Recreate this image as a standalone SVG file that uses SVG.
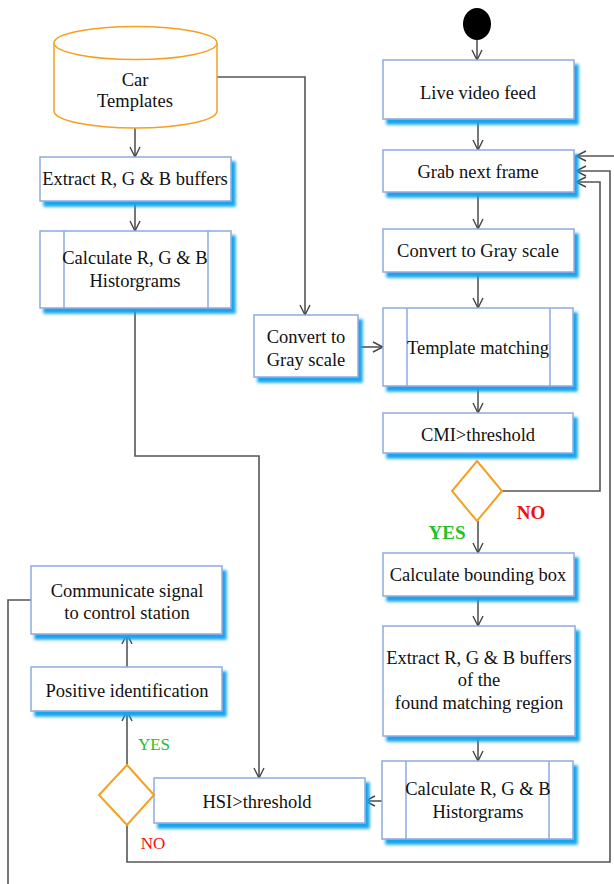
<svg xmlns="http://www.w3.org/2000/svg" width="614" height="884" viewBox="0 0 614 884">
<defs>
<filter id="sh" x="-10%" y="-10%" width="130%" height="140%">
<feDropShadow dx="4" dy="5" stdDeviation="1.8" flood-color="#12a4ee" flood-opacity="1"/>
</filter>
<marker id="ar" viewBox="0 0 12 12" refX="11" refY="6" markerWidth="12" markerHeight="12" markerUnits="userSpaceOnUse" orient="auto">
<polyline points="1,1 11,6 1,11" fill="none" stroke="#444" stroke-width="1.4"/>
</marker>
<style>
.box{fill:#fff;stroke:#8eaade;stroke-width:1.5;filter:url(#sh)}
.in{stroke:#8eaade;stroke-width:1.5}
.t{font-family:"Liberation Serif","Times New Roman",serif;font-size:18.5px;fill:#111;text-anchor:middle}
.c{fill:none;stroke:#555;stroke-width:1.6}
.dec{fill:#fff;stroke:#f5a020;stroke-width:2}
</style>
</defs>
<rect width="614" height="884" fill="#fff"/>
<g id="connectors">
<line class="c" x1="135" y1="128" x2="135" y2="157" marker-end="url(#ar)"/>
<line class="c" x1="135" y1="201" x2="135" y2="231" marker-end="url(#ar)"/>
<polyline class="c" points="217,77 305,77 305,315" marker-end="url(#ar)"/>
<polyline class="c" points="135,308 135,456 259,456 259,778" marker-end="url(#ar)"/>
<line class="c" x1="477" y1="40" x2="477" y2="60" marker-end="url(#ar)"/>
<line class="c" x1="478" y1="119" x2="478" y2="150" marker-end="url(#ar)"/>
<line class="c" x1="478" y1="192" x2="478" y2="229" marker-end="url(#ar)"/>
<line class="c" x1="478" y1="272" x2="478" y2="308" marker-end="url(#ar)"/>
<line class="c" x1="358" y1="347" x2="383" y2="347" marker-end="url(#ar)"/>
<line class="c" x1="478" y1="386" x2="478" y2="413" marker-end="url(#ar)"/>
<line class="c" x1="478" y1="521" x2="478" y2="553" marker-end="url(#ar)"/>
<polyline class="c" points="502,491 600,491 600,182 576,182" marker-end="url(#ar)"/>
<line class="c" x1="478" y1="596" x2="478" y2="626" marker-end="url(#ar)"/>
<line class="c" x1="478" y1="736" x2="478" y2="761" marker-end="url(#ar)"/>
<line class="c" x1="382" y1="801" x2="365" y2="801" marker-end="url(#ar)"/>
<line class="c" x1="127" y1="765" x2="127" y2="711" marker-end="url(#ar)"/>
<line class="c" x1="127" y1="667" x2="127" y2="634" marker-end="url(#ar)"/>
<polyline class="c" points="127,825 127,862 610,862 610,171 576,171" marker-end="url(#ar)"/>
<polyline class="c" points="31,600 8,600 8,884"/>
<line class="c" x1="614" y1="156" x2="576" y2="156" marker-end="url(#ar)"/>
</g>
<g id="car-templates">
<path d="M54,43 L54,111 A81.5,17 0 0 0 217,111 L217,43" fill="#fff" stroke="#f5a020" stroke-width="1.5"/>
<ellipse cx="135.5" cy="43" rx="81.5" ry="16.5" fill="#fff" stroke="#f5a020" stroke-width="1.5"/>
<text class="t" x="135" y="86">Car</text>
<text class="t" x="135" y="107">Templates</text>
</g>
<g id="extract-left">
<rect class="box" x="40" y="157" width="191" height="44"/>
<text class="t" x="135" y="185">Extract R, G &amp; B buffers</text>
</g>
<g id="calc-left">
<rect class="box" x="40" y="231" width="191" height="77"/>
<line class="in" x1="64" y1="231" x2="64" y2="308"/>
<line class="in" x1="208" y1="231" x2="208" y2="308"/>
<text class="t" x="135" y="264">Calculate R, G &amp; B</text>
<text class="t" x="135" y="287">Historgrams</text>
</g>
<g id="start">
<ellipse cx="477" cy="24" rx="14" ry="16" fill="#000"/>
</g>
<g id="live">
<rect class="box" x="383" y="60" width="191" height="59"/>
<text class="t" x="478" y="99">Live video feed</text>
</g>
<g id="grab">
<rect class="box" x="383" y="150" width="191" height="42"/>
<text class="t" x="478" y="178">Grab next frame</text>
</g>
<g id="gray-right">
<rect class="box" x="383" y="229" width="191" height="43"/>
<text class="t" x="478" y="257">Convert to Gray scale</text>
</g>
<g id="gray-left">
<rect class="box" x="254" y="315" width="104" height="62"/>
<text class="t" x="306" y="343">Convert to</text>
<text class="t" x="306" y="366">Gray scale</text>
</g>
<g id="template-matching">
<rect class="box" x="383" y="308" width="190" height="78"/>
<line class="in" x1="407" y1="308" x2="407" y2="386"/>
<line class="in" x1="550" y1="308" x2="550" y2="386"/>
<text class="t" x="478" y="354">Template matching</text>
</g>
<g id="cmi">
<rect class="box" x="383" y="413" width="190" height="40"/>
<text class="t" x="478" y="441">CMI&gt;threshold</text>
</g>
<g id="decision-cmi">
<polygon class="dec" points="477,461 502,491 477,521 452,491"/>
<text x="447" y="539" font-family="Liberation Serif,serif" font-size="19" font-weight="bold" fill="#22c02a" text-anchor="middle">YES</text>
<text x="531" y="519" font-family="Liberation Serif,serif" font-size="19" font-weight="bold" fill="#ee1111" text-anchor="middle">NO</text>
</g>
<g id="bbox">
<rect class="box" x="383" y="553" width="191" height="43"/>
<text class="t" x="478" y="581">Calculate bounding box</text>
</g>
<g id="extract-right">
<rect class="box" x="383" y="626" width="192" height="110"/>
<text class="t" x="479" y="664">Extract R, G &amp; B buffers</text>
<text class="t" x="479" y="686">of the</text>
<text class="t" x="479" y="709">found matching region</text>
</g>
<g id="calc-right">
<rect class="box" x="382" y="761" width="191" height="78"/>
<line class="in" x1="406" y1="761" x2="406" y2="839"/>
<line class="in" x1="549" y1="761" x2="549" y2="839"/>
<text class="t" x="478" y="795">Calculate R, G &amp; B</text>
<text class="t" x="478" y="818">Historgrams</text>
</g>
<g id="hsi">
<rect class="box" x="154" y="778" width="211" height="45"/>
<text class="t" x="257" y="808">HSI&gt;threshold</text>
</g>
<g id="decision-hsi">
<polygon class="dec" points="127,765 154,795 127,825 99,795"/>
<text x="154" y="750" font-family="Liberation Serif,serif" font-size="17" fill="#22c02a" text-anchor="middle">YES</text>
<text x="153" y="849" font-family="Liberation Serif,serif" font-size="17" fill="#ee1111" text-anchor="middle">NO</text>
</g>
<g id="positive">
<rect class="box" x="31" y="667" width="191" height="44"/>
<text class="t" x="127" y="697">Positive identification</text>
</g>
<g id="communicate">
<rect class="box" x="31" y="566" width="191" height="68"/>
<text class="t" x="127" y="597">Communicate signal</text>
<text class="t" x="127" y="619">to control station</text>
</g>
</svg>
